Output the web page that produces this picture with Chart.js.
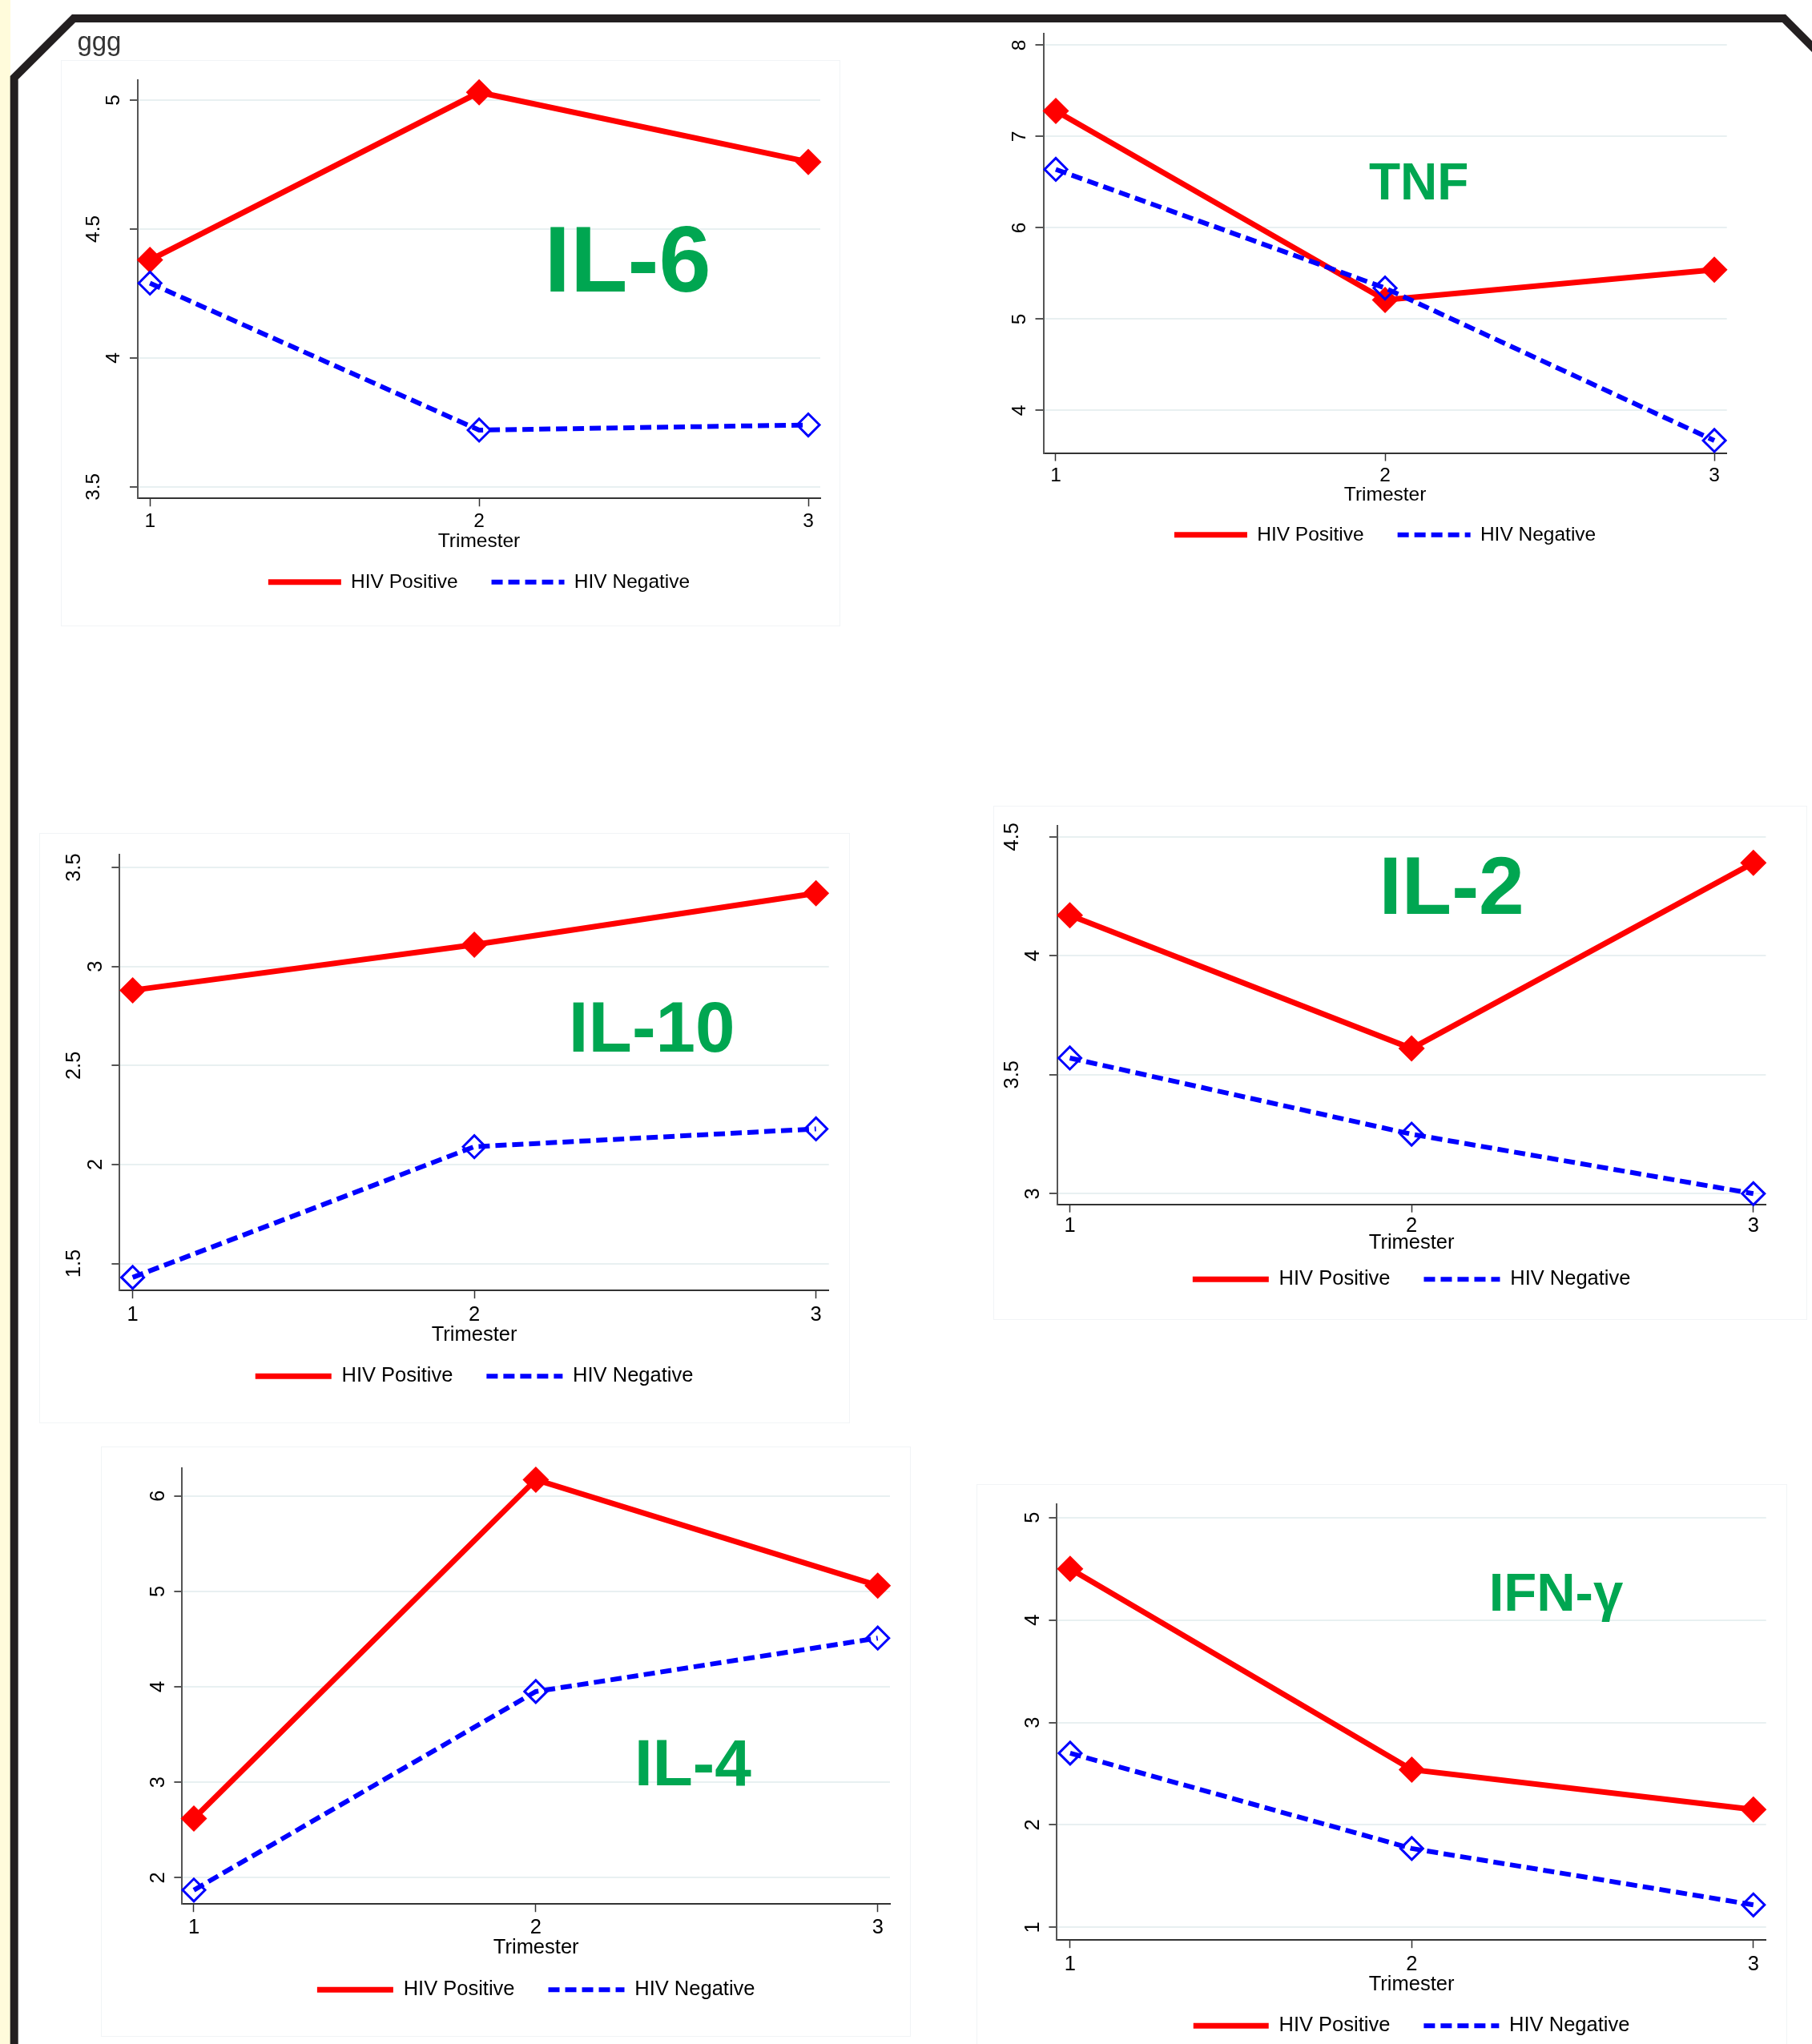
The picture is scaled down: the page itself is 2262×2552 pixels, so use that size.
<!DOCTYPE html>
<html>
<head>
<meta charset="utf-8">
<title>Cytokine levels by trimester</title>
<script src="https://cdn.jsdelivr.net/npm/chart.js@4.4.1/dist/chart.umd.min.js"></script>
<style>
  html, body { margin: 0; padding: 0; background: #fff; }
  body { position: relative; width: 2262px; height: 2552px; overflow: hidden;
         font-family: "Liberation Sans", Arial, Helvetica, sans-serif; }
  .strip { position: absolute; left: 0; top: 0; width: 13px; height: 2552px; background: #fffbdb; }
  .frame { position: absolute; left: 0; top: 0; }
  .panel { position: absolute; border: 1.5px solid #f1f4f6; box-sizing: border-box; }
  canvas { position: absolute; }
  .note { position: absolute; line-height: 1; white-space: nowrap; }
</style>
</head>
<body>
<div class="strip"></div>
<svg class="frame" width="2262" height="2552">
  <polyline points="17.7,2600 17.7,97 92,23 2227,23 2290,86" fill="none" stroke="#231f20" stroke-width="10"/>
</svg>
<script>
Chart.defaults.font.family = '"Liberation Sans", Arial, Helvetica, sans-serif';
Chart.defaults.color = '#000';

const trimesters = [1, 2, 3];
const seriesNames = ['HIV Positive', 'HIV Negative'];

const il6Pos = [4.38, 5.03, 4.76];
const il6Neg = [4.29, 3.72, 3.74];
const il6Ticks = [3.5, 4, 4.5, 5];

const tnfPos = [7.28, 5.21, 5.54];
const tnfNeg = [6.64, 5.34, 3.67];
const tnfTicks = [4, 5, 6, 7, 8];

const il10Pos = [2.88, 3.11, 3.37];
const il10Neg = [1.43, 2.09, 2.18];
const il10Ticks = [1.5, 2, 2.5, 3, 3.5];

const il2Pos = [4.17, 3.61, 4.39];
const il2Neg = [3.57, 3.25, 3.00];
const il2Ticks = [3, 3.5, 4, 4.5];

const il4Pos = [2.62, 6.17, 5.06];
const il4Neg = [1.87, 3.95, 4.51];
const il4Ticks = [2, 3, 4, 5, 6];

const ifnPos = [4.50, 2.54, 2.15];
const ifnNeg = [2.70, 1.77, 1.22];
const ifnTicks = [1, 2, 3, 4, 5];

const RED = '#ff0000';
const BLUE = '#0000ff';
const GREEN = '#00a651';

// stata pushes the vertical y labels further left the longer they are
const stataYLabels = {
  id: 'stataYLabels',
  beforeDraw(chart, args, opts) {
    const sc = chart.scales.y;
    for (const item of sc.getLabelItems()) {
      item.options.translation[0] = sc.right - opts.offset - (String(item.label).length - 1) * opts.step;
    }
  }
};

// plot = [left, top, right, bottom] of each plot region on the page
const panels = [
  { pos: il6Pos, neg: il6Neg, yTicks: il6Ticks, y: [3.455, 5.079], x: [0.963, 3.0365],
    plot: [172, 99.5, 1024, 622.3], xLab: 651.7, xTitle: 676.5, legend: 727, fs: 24.5, key: 91 },
  { pos: tnfPos, neg: tnfNeg, yTicks: tnfTicks, y: [3.533, 8.127], x: [0.9623, 3.038],
    plot: [1302.5, 42, 2155.7, 565.6], xLab: 594.6, xTitle: 618, legend: 668, fs: 24.5, key: 91 },
  { pos: il10Pos, neg: il10Neg, yTicks: il10Ticks, y: [1.364, 3.564], x: [0.962, 3.0377],
    plot: [149.4, 1067.3, 1034.7, 1611.2], xLab: 1641.6, xTitle: 1666.5, legend: 1718.7, fs: 25.5, key: 95 },
  { pos: il2Pos, neg: il2Neg, yTicks: il2Ticks, y: [2.955, 4.545], x: [0.9634, 3.0366],
    plot: [1319.9, 1031.3, 2204.4, 1503.7], xLab: 1530.6, xTitle: 1552, legend: 1597.4, fs: 25.5, key: 95 },
  { pos: il4Pos, neg: il4Neg, yTicks: il4Ticks, y: [1.724, 6.289], x: [0.9658, 3.0358],
    plot: [227.4, 1833.2, 1111, 2377.2], xLab: 2407, xTitle: 2432.4, legend: 2484, fs: 25.5, key: 95 },
  { pos: ifnPos, neg: ifnNeg, yTicks: ifnTicks, y: [0.8765, 5.1274], x: [0.9613, 3.0373],
    plot: [1319.4, 1878.4, 2204.7, 2422.2], xLab: 2453.3, xTitle: 2478, legend: 2529.6, fs: 25.5, key: 94 }
];

// faint graph-region outlines
const panelBoxes = [[76, 75, 1049, 782], [49, 1040, 1061, 1777], [1240, 1006, 2256, 1648],
                    [126, 1806, 1137, 2543], [1219, 1853, 2231, 2600]];
panelBoxes.forEach(([l, t, r, b]) => {
  const d = document.createElement('div');
  d.className = 'panel';
  Object.assign(d.style, { left: l + 'px', top: t + 'px', width: (r - l) + 'px', height: (b - t) + 'px' });
  document.body.appendChild(d);
});

panels.forEach((p) => {
  const [l, t, r, b] = p.plot;
  const left = Math.round(l - 80);
  const top = Math.round(t - 40);
  const width = Math.round(r + 40) - left;
  const height = Math.round(p.legend + p.fs / 2 + 10) - top;
  const legPad = 42;
  const legH = p.fs + legPad + 10;
  const xH = height - legH - (b - top);
  const lh = p.fs * 1.2;

  const cv = document.createElement('canvas');
  cv.width = width;
  cv.height = height;
  cv.style.left = left + 'px';
  cv.style.top = top + 'px';
  document.body.appendChild(cv);

  new Chart(cv, {
    type: 'line',
    data: {
      datasets: [
        {
          label: seriesNames[0],
          data: trimesters.map((x, i) => ({ x, y: p.pos[i] })),
          order: 2,
          borderColor: RED,
          backgroundColor: RED,
          borderWidth: 7,
          pointStyle: 'rectRot',
          pointRadius: 16.5,
          pointBackgroundColor: RED,
          pointBorderWidth: 0,
          clip: false,
        },
        {
          label: seriesNames[1],
          data: trimesters.map((x, i) => ({ x, y: p.neg[i] })),
          order: 1,
          borderColor: BLUE,
          backgroundColor: BLUE,
          borderWidth: 6,
          borderDash: [14, 7],
          pointStyle: 'rectRot',
          pointRadius: 14,
          pointBorderColor: BLUE,
          pointBackgroundColor: 'rgba(0,0,0,0)',
          pointBorderWidth: 3,
          clip: false,
        },
      ],
    },
    options: {
      responsive: false,
      animation: false,
      devicePixelRatio: 1,
      events: [],
      layout: { padding: { left: 0, top: t - top, right: left + width - r, bottom: 0 } },
      plugins: {
        tooltip: { enabled: false },
        stataYLabels: { offset: 29.5, step: 0.52 * p.fs },
        legend: {
          position: 'bottom',
          fullSize: false,
          labels: {
            usePointStyle: true,
            pointStyleWidth: p.key,
            padding: legPad,
            color: '#000',
            font: { size: p.fs },
            generateLabels: (chart) => chart.data.datasets.map((ds, i) => ({
              text: ds.label,
              datasetIndex: i,
              hidden: false,
              strokeStyle: ds.borderColor,
              fillStyle: ds.borderColor,
              lineWidth: ds.borderWidth,
              lineDash: ds.borderDash || [],
              pointStyle: 'line',
              fontColor: '#000',
            })),
          },
        },
      },
      scales: {
        x: {
          type: 'linear',
          bounds: 'data',
          min: p.x[0],
          max: p.x[1],
          afterBuildTicks: (s) => { s.ticks = trimesters.map((v) => ({ value: v })); },
          afterFit: (s) => { s.height = xH; },
          ticks: {
            autoSkip: false,
            maxRotation: 0,
            padding: p.xLab - b - 10 - lh / 2,
            font: { size: p.fs },
            color: '#000',
            callback: (v) => String(v),
          },
          grid: { drawOnChartArea: false, tickLength: 10, tickColor: '#333', tickWidth: 1.5 },
          border: { color: '#333', width: 2 },
          title: {
            display: true,
            text: 'Trimester',
            color: '#000',
            font: { size: p.fs },
            padding: { top: 0, bottom: b + xH - lh / 2 - p.xTitle },
          },
        },
        y: {
          type: 'linear',
          bounds: 'data',
          min: p.y[0],
          max: p.y[1],
          afterBuildTicks: (s) => { s.ticks = p.yTicks.map((v) => ({ value: v })); },
          afterFit: (s) => { s.width = l - left; },
          ticks: {
            autoSkip: false,
            minRotation: 90,
            maxRotation: 90,
            crossAlign: 'center',
            padding: 0,
            font: { size: p.fs },
            color: '#000',
            callback: (v) => String(v),
          },
          grid: { color: '#e8f0f1', lineWidth: 2, tickLength: 10, tickColor: '#555', tickWidth: 2 },
          border: { color: '#555', width: 2 },
        },
      },
    },
    plugins: [stataYLabels],
  });
});

// panel captions, [text, left, baseline, size, weight, colour]
const notes = [
  ['ggg', 96.4, 63.3, 33, 'normal', '#333'],
  ['IL-6', 679.5, 364, 117, 'bold', GREEN],
  ['TNF', 1709, 249, 64, 'bold', GREEN],
  ['IL-10', 709.8, 1313.8, 89, 'bold', GREEN],
  ['IL-2', 1721.5, 1141.6, 102, 'bold', GREEN],
  ['IL-4', 792, 2229, 82, 'bold', GREEN],
  ['IFN-γ', 1858.7, 2010.5, 67, 'bold', GREEN],
];
notes.forEach(([txt, x, base, size, weight, color]) => {
  const d = document.createElement('div');
  d.className = 'note';
  d.textContent = txt;
  Object.assign(d.style, {
    left: x + 'px',
    top: (base - 0.8465 * size) + 'px',
    fontSize: size + 'px',
    fontWeight: weight,
    color,
  });
  document.body.appendChild(d);
});
</script>
</body>
</html>
